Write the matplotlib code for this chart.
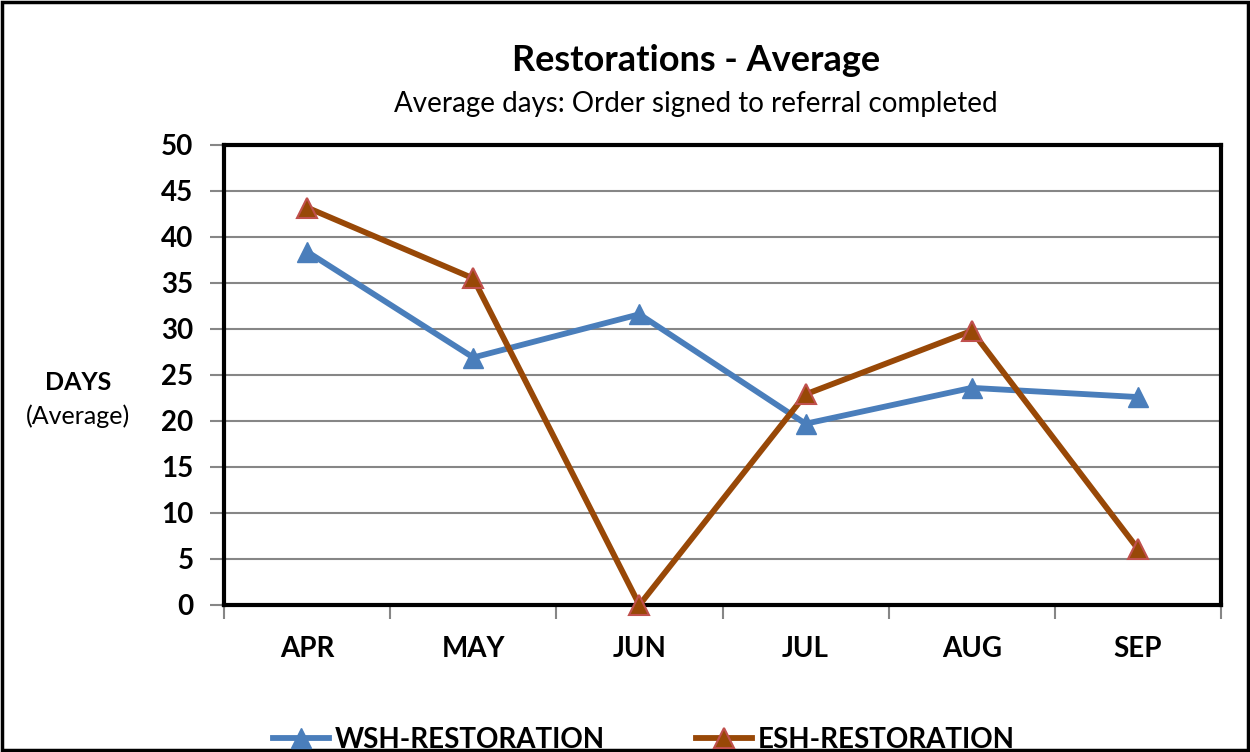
import matplotlib.pyplot as plt
from matplotlib.patches import Rectangle

months = ["APR", "MAY", "JUN", "JUL", "AUG", "SEP"]
wsh = [38.4, 26.9, 31.6, 19.7, 23.6, 22.6]
esh = [43.2, 35.5, 0.0, 22.9, 29.8, 6.1]
yticks = list(range(0, 51, 5))

plt.rcParams['font.family'] = ['Lato', 'DejaVu Sans']

fig = plt.figure(figsize=(12.5, 7.52), dpi=100)
ax = fig.add_axes([0.1792, 0.1955, 0.7976, 0.6117])

x = list(range(len(months)))
ax.plot(x, wsh, color='#4A7EBB', lw=4.2, marker='^', markersize=15,
        markerfacecolor='#4A7EBB', markeredgecolor='#4A7EBB', label='WSH-RESTORATION',
        zorder=4, clip_on=False)
ax.plot(x, esh, color='#984807', lw=4.2, marker='^', markersize=15,
        markerfacecolor='#984807', markeredgecolor='#C0504D', markeredgewidth=1.5,
        label='ESH-RESTORATION', zorder=5, clip_on=False)

ax.set_xlim(-0.5, len(months) - 0.5)
ax.set_ylim(0, 50)
ax.set_yticks(yticks, labels=[str(v) for v in yticks], fontsize=20, fontweight='bold')
ax.set_xticks([i + 0.5 for i in range(-1, len(months))], labels=[''] * (len(months) + 1))
ax.set_xticks(x, labels=months, minor=True, fontsize=20, fontweight='bold')
ax.tick_params(axis='x', which='minor', length=0, pad=22)
ax.tick_params(axis='x', which='major', length=10, width=1.5, color='#868686', direction='out')
ax.tick_params(axis='y', length=10, width=1.5, color='#868686', pad=12)

ax.yaxis.grid(True, color='#868686', lw=1.5)
ax.set_axisbelow(True)
for s in ax.spines.values():
    s.set_color('black')
    s.set_linewidth(3)

fig.text(0.0624, 0.491, "DAYS", ha='center', va='center', fontsize=18, fontweight='bold')
fig.text(0.0624, 0.447, "(Average)", ha='center', va='center', fontsize=18)

fig.text(0.557, 0.919, "Restorations - Average", ha='center', va='center',
         fontsize=26, fontweight='bold')
fig.text(0.557, 0.862, "Average days: Order signed to referral completed", ha='center',
         va='center', fontsize=20)

fig.legend(loc='center', bbox_to_anchor=(0.515, 0.016), ncol=2, frameon=False,
           prop={'size': 20, 'weight': 'bold'}, handlelength=2.0, handletextpad=0.2,
           columnspacing=3.3, borderpad=0)

fig.patches.append(Rectangle((0.0015, 0.002), 0.9965, 0.995, transform=fig.transFigure,
                             fill=False, edgecolor='black', lw=2.5))

fig.savefig('out.png', dpi=100)
